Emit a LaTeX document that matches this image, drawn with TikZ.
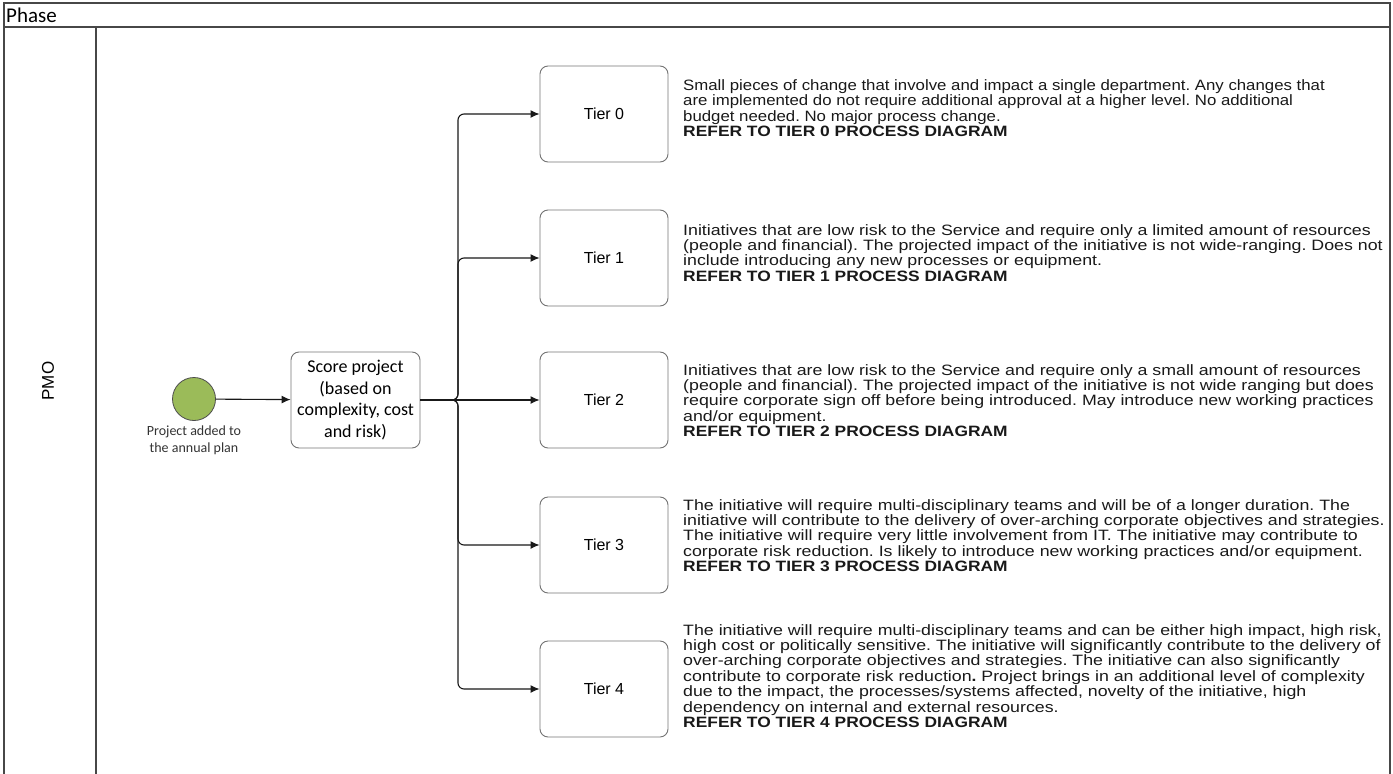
\documentclass[tikz,border=0pt]{standalone}
\usepackage{fontspec}
\setmainfont{Liberation Sans}
\newfontfamily\carlito{Carlito}
\newfontfamily\notefont[FakeStretch=1.12, BoldFeatures={FakeStretch=1.16}]{Liberation Sans}
\newfontfamily\widenotefont[FakeStretch=1.185, BoldFeatures={FakeStretch=1.16}]{Liberation Sans}
\usetikzlibrary{arrows.meta,positioning}
\definecolor{startgreen}{RGB}{155,187,89}
\frenchspacing
\tikzset{
  lane/.style={draw=black!72, line width=1.5pt},
  startev/.style={circle, draw=black!70, line width=0.8pt, fill=startgreen, minimum size=43pt, inner sep=0pt},
  taskbox/.style={draw=black!55, line width=0.9pt, rounded corners=8pt, minimum width=129pt, minimum height=96pt, align=center, font=\carlito\fontsize{18}{21.5}\selectfont},
  tierbox/.style={draw=black!55, line width=0.9pt, rounded corners=8pt, minimum width=128pt, minimum height=96pt, font=\fontsize{16}{19}\selectfont},
  flow/.style={draw=black!90, line width=1.1pt, rounded corners=6pt, -{Latex[length=9pt,width=8pt]}},
  note/.style={anchor=north west, align=left, inner sep=0pt, text=black!90, font=\notefont\fontsize{15}{15.5}\selectfont},
  widenote/.style={note, font=\widenotefont\fontsize{15}{15.4}\selectfont}
}
\begin{document}
\begin{tikzpicture}[x=1pt,y=-1pt]
\useasboundingbox (0,0) rectangle (1393,774);
\draw[lane] (4,774) -- (4,3) -- (1390,3) -- (1390,774);
\draw[lane] (4,27) -- (1390,27);
\draw[lane] (96,27) -- (96,774);
\node[anchor=west, inner sep=0pt, font=\carlito\fontsize{21}{24}\selectfont] (phase) at (6,15) {Phase};
\node[rotate=90, font=\fontsize{17}{20}\selectfont] (pmo) at (48,381) {PMO};

\node[startev] (start) at (194,399) {};
\node[below=5pt of start, inner sep=0pt, align=center, text=black!80, font=\carlito\fontsize{14}{17}\selectfont] (startlabel) {Project added to\\the annual plan};
\node[taskbox] (score) at (355.5,400) {Score project\\(based on\\complexity, cost\\and risk)};

\foreach \i/\y in {0/114,1/258,2/400,3/545,4/689}
  \node[tierbox] (tier\i) at (604,\y) {Tier \i};

\coordinate (split) at (458,400);
\draw[flow] (start) -- (score);
\foreach \i in {0,1,3,4}
  \draw[flow] (score.east) -- (split) |- (tier\i.west);
\draw[flow] (score.east) -- (tier2.west);

\node[note] (note0) at (683,79) {Small pieces of change that involve and impact a single department. Any changes that\\
are implemented do not require additional approval at a higher level. No additional\\
budget needed. No major process change.\\
\textbf{REFER TO TIER 0 PROCESS DIAGRAM}};
\node[widenote] (note1) at (683,224) {Initiatives that are low risk to the Service and require only a limited amount of resources\\
(people and financial). The projected impact of the initiative is not wide-ranging. Does not\\
include introducing any new processes or equipment.\\
\textbf{REFER TO TIER 1 PROCESS DIAGRAM}};
\node[widenote] (note2) at (683,364) {Initiatives that are low risk to the Service and require only a small amount of resources\\
(people and financial). The projected impact of the initiative is not wide ranging but does\\
require corporate sign off before being introduced. May introduce new working practices\\
and/or equipment.\\
\textbf{REFER TO TIER 2 PROCESS DIAGRAM}};
\node[widenote] (note3) at (683,499) {The initiative will require multi-disciplinary teams and will be of a longer duration. The\\
initiative will contribute to the delivery of over-arching corporate objectives and strategies.\\
The initiative will require very little involvement from IT. The initiative may contribute to\\
corporate risk reduction. Is likely to introduce new working practices and/or equipment.\\
\textbf{REFER TO TIER 3 PROCESS DIAGRAM}};
\node[widenote] (note4) at (683,624) {The initiative will require multi-disciplinary teams and can be either high impact, high risk,\\
high cost or politically sensitive. The initiative will significantly contribute to the delivery of\\
over-arching corporate objectives and strategies. The initiative can also significantly\\
contribute to corporate risk reduction\textbf{.} Project brings in an additional level of complexity\\
due to the impact, the processes/systems affected, novelty of the initiative, high\\
dependency on internal and external resources.\\
\textbf{REFER TO TIER 4 PROCESS DIAGRAM}};
\end{tikzpicture}
\end{document}
